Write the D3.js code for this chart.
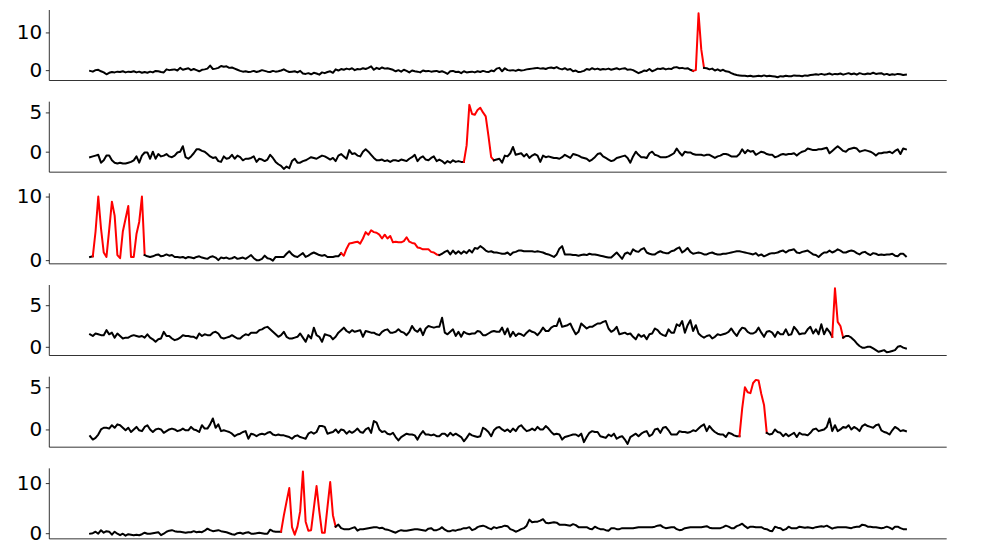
<!DOCTYPE html>
<html><head><meta charset="utf-8">
<script src="https://cdn.jsdelivr.net/npm/d3@7"></script>
<style>body{margin:0;background:#fff} svg{display:block} text{font-family:"DejaVu Sans",sans-serif}</style>
</head><body><svg id="c" width="996" height="546"></svg>
<script>
const series1 = [
-0.2,-0.4,0.0,0.1,-0.3,-0.6,-1.1,-0.7,-0.5,-0.6,
-0.4,-0.5,-0.3,-0.6,-0.4,-0.5,-0.3,-0.6,-0.4,-0.7,
-0.5,-0.7,-0.4,-0.6,-0.2,-0.3,-0.5,-0.6,0.2,0.0,
0.1,0.2,-0.1,0.6,0.1,0.3,0.5,0.0,0.3,0.0,
-0.3,0.1,0.2,0.4,1.2,0.3,0.4,0.6,1.1,0.9,
1.0,0.6,0.7,0.4,0.1,-0.2,-0.4,-0.3,-0.5,-0.4,
-0.2,-0.5,-0.3,0.0,-0.2,-0.4,-0.5,-0.2,-0.4,-0.3,
-0.1,0.2,-0.2,-0.5,-0.4,-0.3,-0.6,-0.2,-0.9,-1.0,
-0.8,-1.1,-0.7,-0.9,-1.2,-0.6,-0.8,-0.5,-0.3,-0.7,
0.2,-0.1,0.3,0.1,0.4,0.2,0.5,0.0,0.3,0.2,
0.5,0.3,0.6,1.0,0.1,0.6,0.3,0.7,0.4,0.5,
0.3,0.1,-0.3,0.0,-0.4,0.1,-0.2,-0.6,-0.1,-0.3,
-0.4,-0.6,-0.1,-0.3,-0.2,-0.4,-0.3,-0.2,-0.5,-0.3,
-0.6,-1.0,-0.3,-0.2,-0.5,-0.4,-0.8,-0.3,-0.6,-0.5,
-0.4,-0.6,-0.3,-0.5,-0.2,-0.4,-0.5,-0.1,-0.3,0.4,
0.6,-0.3,0.5,0.0,-0.1,0.0,-0.2,0.1,-0.1,0.0,
0.2,0.3,0.4,0.5,0.6,0.4,0.5,0.3,0.6,0.7,
0.5,0.8,0.4,0.2,0.5,0.1,0.3,-0.3,-0.1,-0.5,
-0.4,-0.2,0.3,0.1,0.5,0.2,0.4,0.1,0.3,0.2,
0.4,0.1,0.3,0.5,0.2,0.4,0.5,0.1,0.2,0.0,
-0.4,-0.8,-0.5,-0.1,-0.2,0.3,-0.3,0.0,0.4,0.3,
0.5,0.2,0.4,0.3,0.7,0.8,0.5,0.6,0.4,0.5,
0.1,-0.2,0.0,15.1,5.5,0.6,0.5,0.2,0.4,-0.1,
0.2,-0.2,0.1,-0.3,-0.4,-0.8,-1.1,-1.3,-1.4,-1.5,
-1.5,-1.6,-1.5,-1.7,-1.6,-1.5,-1.6,-1.4,-1.6,-1.5,
-1.6,-1.7,-1.9,-1.6,-1.7,-1.5,-1.6,-1.6,-1.4,-1.5,
-1.5,-1.6,-1.4,-1.5,-1.3,-1.2,-1.1,-1.2,-1.0,-1.2,
-1.1,-0.9,-1.2,-1.0,-1.1,-0.9,-1.2,-1.0,-0.8,-1.1,
-0.9,-1.2,-0.8,-1.0,-1.1,-0.9,-1.0,-0.7,-1.0,-0.9,
-0.8,-1.2,-1.0,-1.3,-1.1,-1.2,-1.0,-1.1,-1.3,-1.2];

const series2 = [
-0.7,-0.6,-0.5,-0.4,-1.4,-1.1,-0.5,-0.5,-1.1,-1.4,
-1.5,-1.4,-1.5,-1.5,-1.4,-1.3,-1.1,-0.6,-1.4,-0.5,
-0.1,-0.1,-0.9,0.0,-0.9,-0.3,-0.6,-0.5,-0.3,-0.6,
-0.7,-0.5,-0.1,0.0,0.7,-0.7,-0.9,-0.6,-0.2,0.3,
0.3,0.1,0.0,-0.3,-0.6,-0.8,-0.7,-1.2,-1.3,-0.6,
-0.9,-0.8,-0.4,-0.9,-0.5,-0.7,-1.1,-0.9,-0.9,-0.8,
-0.6,-1.3,-0.9,-1.0,-1.2,-1.0,-0.4,-0.8,-1.3,-1.6,
-1.8,-2.2,-1.9,-2.1,-1.2,-0.9,-1.4,-1.4,-1.2,-1.1,
-0.9,-0.7,-0.8,-0.9,-0.7,-0.5,-0.6,-0.8,-1.0,-0.8,
-1.2,-0.5,-0.3,-0.6,-0.9,0.2,-0.3,-0.2,-0.5,-0.6,
0.0,0.3,0.0,-0.4,-0.8,-1.1,-1.1,-1.0,-1.2,-1.1,
-1.3,-1.1,-1.1,-1.2,-1.0,-1.1,-1.2,-0.9,-0.7,-0.4,
-1.2,-0.8,-0.6,-1.0,-1.1,-0.8,-0.6,-1.2,-1.0,-1.2,
-1.5,-1.2,-1.4,-1.1,-1.3,-1.2,-1.3,-1.3,0.8,5.96,
4.8,4.7,5.3,5.6,5.0,4.5,2.0,-0.7,-1.1,-1.0,
-0.9,-1.4,-0.5,-0.6,-0.2,0.6,-0.4,-0.3,-0.2,-0.6,
-0.3,-0.8,-0.5,-0.3,-0.5,-1.3,-0.5,-0.7,-0.6,-0.7,
-0.8,-0.8,-0.9,-0.7,-0.4,-0.6,-0.8,-0.3,-0.4,-0.5,
-0.7,-0.8,-0.9,-1.2,-1.0,-0.7,-0.3,-0.2,-0.6,-0.8,
-1.0,-1.2,-1.1,-0.8,-0.7,-0.6,-0.5,-0.8,-1.4,-0.6,
0.0,-0.4,-0.7,-0.7,-0.8,-0.2,0.0,-0.4,-0.5,-0.7,
-0.7,-0.7,-0.6,-0.4,-0.2,0.4,-0.1,-0.5,0.0,-0.1,
-0.1,-0.3,-0.4,-0.4,-0.4,-0.5,-0.4,-0.4,-0.6,-0.8,
-0.6,-0.5,-0.3,-0.3,-0.4,-0.6,-0.6,-0.6,-0.3,0.3,
-0.2,0.2,0.0,0.1,-0.4,-0.2,0.0,-0.1,-0.3,-0.4,
-0.4,-0.7,-0.6,-0.4,-0.3,-0.4,-0.3,-0.3,-0.2,-0.5,
-0.2,0.0,0.1,0.4,0.3,0.2,0.2,0.3,0.3,0.4,
0.5,-0.2,0.1,0.4,0.7,0.4,0.1,0.0,0.3,0.4,
0.5,0.4,0.0,0.1,0.2,0.1,0.0,-0.2,-0.5,-0.2,
-0.2,-0.1,-0.1,0.0,-0.2,0.1,0.3,-0.3,0.4,0.3];

const series3 = [
0.5,0.6,4.5,10.0,5.0,1.2,0.5,4.8,9.2,7.0,
0.8,0.3,4.5,6.5,8.5,0.5,0.5,4.1,6.0,10.0,
0.8,0.6,0.5,0.6,0.8,0.9,0.6,0.7,0.9,0.7,
0.8,0.5,0.5,0.4,0.5,0.3,0.5,0.4,0.3,0.5,
0.6,0.4,0.3,0.2,0.5,0.6,0.4,0.0,0.4,0.3,
0.4,0.2,0.3,0.5,0.2,0.3,0.4,0.2,0.5,0.8,
0.3,0.0,0.0,0.2,0.7,0.3,0.2,-0.08,0.5,0.5,
0.5,0.5,1.0,1.4,0.9,0.6,0.5,0.8,1.1,0.5,
0.7,1.0,1.2,1.0,0.8,0.7,0.8,0.5,0.5,0.5,
0.6,0.6,1.1,0.7,1.8,2.6,2.7,2.8,2.9,2.6,
3.4,4.4,4.0,4.7,4.4,4.3,4.0,3.4,4.0,3.4,
3.8,2.8,2.9,2.8,2.8,3.0,3.6,2.9,2.7,2.6,
2.0,1.9,1.7,1.7,1.7,1.3,1.2,0.9,0.8,1.0,
1.3,1.5,0.9,1.5,1.0,1.4,1.0,1.4,1.1,1.6,
1.2,1.9,1.8,2.2,1.9,1.5,1.3,1.4,1.2,1.2,
1.1,1.0,1.0,1.2,0.8,1.2,1.3,1.5,1.5,1.4,
1.4,1.4,1.4,1.3,1.4,1.3,1.2,1.0,0.9,0.7,
0.5,0.9,1.8,2.2,0.9,0.9,0.9,0.8,0.8,0.7,
0.8,0.9,0.8,1.0,0.9,0.9,0.8,0.7,0.6,0.5,
0.4,0.4,0.8,1.2,0.7,0.2,1.0,1.2,0.9,1.7,
1.4,1.3,1.7,1.9,1.2,1.0,0.9,0.9,1.2,1.4,
1.2,1.1,1.1,1.4,1.5,1.8,2.0,1.2,1.5,1.9,
1.3,1.0,1.1,1.2,1.1,0.9,0.9,1.1,1.2,1.0,
0.9,0.9,1.0,1.0,1.1,1.2,1.3,1.4,1.4,1.3,
1.2,1.1,1.0,0.9,1.1,0.7,0.9,0.6,0.8,1.0,
1.1,1.1,1.2,1.4,1.5,1.2,1.5,1.6,1.7,1.2,
1.1,1.3,1.4,1.5,1.2,0.9,0.8,0.5,0.9,1.2,
1.2,1.5,1.2,1.4,1.7,1.5,1.2,1.2,1.4,1.5,
1.4,1.1,0.9,1.2,1.3,1.0,0.8,1.1,1.0,0.8,
0.9,0.8,0.9,0.9,1.0,0.7,0.6,1.0,1.0,0.6];

const series4 = [
1.5,1.3,1.6,1.5,1.4,1.4,2.0,1.5,1.7,1.1,
1.6,1.3,1.0,1.1,1.1,1.3,1.4,1.3,1.2,1.3,
1.1,1.5,1.1,0.9,0.6,0.9,1.0,1.8,1.3,1.3,
1.0,0.8,0.9,1.1,1.4,1.3,1.3,1.2,1.2,1.0,
1.6,1.3,1.5,1.4,1.4,1.7,1.8,1.6,1.1,1.0,
1.1,1.2,1.4,1.2,1.0,1.0,1.3,1.5,1.4,1.7,
1.7,1.7,2.0,2.1,2.3,2.4,2.1,1.8,1.5,1.2,
1.4,1.8,1.2,1.0,1.0,1.1,1.2,1.6,1.1,0.6,
1.4,1.0,2.3,1.4,1.2,0.6,1.5,1.4,1.3,0.9,
1.2,1.7,2.0,2.3,1.9,1.7,2.0,1.8,1.9,2.0,
1.2,1.9,1.8,1.7,1.7,1.5,1.4,1.8,2.0,2.1,
1.7,1.7,1.8,2.1,1.8,1.7,1.4,1.8,2.5,2.0,
1.8,2.2,1.4,2.2,2.5,2.4,2.3,2.4,2.4,3.5,
1.7,1.5,1.8,2.1,1.3,1.8,1.2,1.8,1.6,1.5,
1.6,1.6,1.9,1.8,1.4,1.4,1.6,1.8,1.9,1.8,
1.8,2.3,1.5,2.2,1.2,1.8,1.3,1.6,1.5,1.3,
1.7,2.0,1.8,1.7,1.4,1.8,2.3,1.9,1.9,2.3,
2.5,2.5,3.4,2.4,2.5,2.6,2.8,2.1,1.5,1.8,
2.8,2.5,2.2,2.4,2.4,2.6,2.8,2.8,3.0,3.1,
2.2,1.8,2.0,2.4,1.5,1.6,1.7,1.5,1.6,1.2,
0.9,1.5,1.2,1.4,0.9,1.5,1.6,2.2,2.0,1.6,
1.4,1.3,2.1,1.7,1.7,2.7,2.5,3.1,1.7,2.6,
3.2,1.9,2.6,1.6,1.3,1.1,1.3,1.4,1.0,1.2,
1.5,1.4,1.5,1.6,1.8,2.2,1.7,1.3,1.9,2.3,
2.2,1.8,1.6,1.6,1.8,2.3,1.7,1.2,1.8,1.9,
1.7,1.2,1.8,1.5,1.5,2.1,1.4,1.5,2.4,2.0,
1.5,1.6,1.6,2.1,2.4,1.6,2.1,1.5,2.7,1.5,
2.2,1.8,1.2,7.04,3.0,2.5,1.1,1.3,1.3,1.1,
0.8,0.4,0.1,-0.1,-0.1,0.0,0.0,-0.2,-0.4,-0.6,
-0.5,-0.4,-0.66,-0.6,-0.5,-0.4,0.0,0.1,-0.1,-0.2];

const series5 = [
-0.8,-1.2,-1.0,-0.6,0.0,0.2,0.2,0.1,0.5,0.2,
0.6,0.5,0.2,-0.1,0.2,-0.3,0.0,0.3,-0.1,-0.2,
0.3,0.5,0.0,-0.3,0.0,0.1,0.0,-0.4,-0.2,0.0,
0.1,0.0,-0.2,-0.1,0.1,-0.1,-0.1,0.3,0.0,-0.1,
-0.3,0.5,0.1,0.1,0.6,1.3,0.2,0.6,-0.2,-0.1,
-0.2,-0.3,-0.5,-0.8,-0.6,-0.5,-0.3,-0.2,-1.1,-0.5,
-0.6,-0.8,-0.6,-0.5,-0.6,-0.4,-0.3,-0.6,-0.7,-0.6,
-0.7,-0.7,-0.8,-0.9,-1.1,-0.8,-0.7,-0.9,-1.0,-1.1,
-0.5,-0.3,-0.5,-0.3,0.4,0.4,0.3,-0.5,-0.4,-0.3,
0.0,-0.4,0.0,-0.1,-0.5,-0.2,-0.4,-0.2,0.1,-0.3,
-0.4,0.0,0.2,-0.4,1.0,0.8,0.0,-0.3,-0.2,-0.5,
-0.6,-0.4,-0.9,-1.3,-0.9,-0.7,-0.5,-0.6,-0.6,-0.7,
-1.2,-0.6,-0.2,-0.6,-0.6,-0.7,-0.6,-0.8,-0.8,-0.5,
-0.5,-0.8,-0.4,-0.7,-0.5,-0.7,-0.9,-1.4,-1.0,-0.5,
-0.7,-0.8,-0.9,-0.8,0.2,0.0,-0.3,-0.8,-0.1,0.2,
0.3,0.0,-0.2,0.0,-0.3,0.1,-0.2,0.3,0.5,0.1,
-0.2,-0.1,0.1,-0.1,0.3,0.0,0.0,0.4,0.1,-0.3,
-0.6,-0.5,-0.6,-1.2,-0.9,-0.8,-0.7,-0.6,-0.6,-0.8,
-0.5,-1.5,-0.9,-0.4,-0.2,-0.3,-0.3,-0.8,-0.9,-1.0,
-0.6,-0.8,-0.5,-1.1,-0.9,-0.8,-1.2,-1.72,-0.9,-0.7,
-0.5,-0.8,-0.5,-0.3,-0.2,-0.8,-0.6,0.0,0.1,-0.4,
0.2,0.3,-0.1,-0.6,-0.6,-0.6,-0.2,-0.3,-0.3,-0.4,
-0.3,-0.1,-0.2,0.1,0.4,0.6,-0.2,0.4,0.0,-0.3,
-0.5,-0.6,-0.6,-0.9,-0.4,-0.5,-0.7,-0.8,-0.8,2.5,
5.0,4.4,4.3,5.5,5.87,5.8,4.2,2.9,-0.4,-0.6,
-0.5,0.0,-0.3,-0.4,-0.8,-0.5,-0.8,-0.6,-0.4,-0.9,
-0.4,-0.6,-0.6,-0.7,-0.4,0.0,0.1,-0.2,-0.1,0.0,
0.3,1.3,-0.2,0.5,-0.2,0.0,0.3,0.2,0.5,0.0,
0.3,0.1,-0.2,0.4,0.6,0.4,0.3,0.2,0.5,0.6,
-0.1,-0.3,-0.4,-0.6,-0.1,0.3,0.1,-0.2,-0.1,-0.2];

const series6 = [
-0.1,0.0,0.3,-0.1,0.6,0.1,0.4,0.3,-0.3,0.3,
-0.1,-0.4,-0.1,-0.49,-0.2,-0.3,-0.4,-0.3,-0.4,-0.2,
0.1,-0.1,-0.1,0.0,0.1,0.2,-0.4,-0.1,0.3,0.5,
0.6,0.4,0.3,0.3,0.2,0.1,0.2,0.2,0.4,0.2,
0.3,0.2,0.5,0.9,0.6,0.4,0.5,0.6,0.4,0.3,
0.2,0.0,-0.2,-0.3,0.0,0.1,-0.1,0.1,0.2,-0.1,
-0.1,0.0,0.1,0.0,-0.1,-0.1,0.7,0.4,0.3,0.3,
0.3,3.5,6.3,9.0,1.2,-0.3,1.3,4.4,12.3,2.3,
0.5,0.6,5.0,9.4,4.4,0.1,0.1,5.2,10.2,3.6,
1.3,1.7,1.0,0.8,0.8,0.8,1.0,1.2,0.5,0.8,
0.8,0.9,1.0,1.1,1.2,1.2,1.0,1.1,0.8,0.7,
0.5,0.3,0.1,0.4,0.6,0.5,0.5,0.6,0.7,0.8,
0.8,0.7,0.6,0.5,0.9,1.0,0.6,0.6,0.8,1.2,
0.7,0.4,0.4,0.6,0.5,0.7,0.8,1.0,1.0,1.2,
0.6,0.8,1.2,1.4,1.5,1.3,1.0,0.8,1.2,1.0,
1.2,1.3,1.5,1.4,0.8,0.6,0.3,0.5,0.8,1.0,
1.5,2.7,2.2,2.3,2.3,2.5,2.8,2.1,2.0,2.1,
2.2,2.1,1.7,1.7,1.7,1.6,1.5,1.8,1.6,1.2,
1.2,1.2,1.2,0.9,0.8,1.3,1.0,0.8,0.8,0.6,
0.5,1.0,1.0,0.8,0.8,1.0,1.0,1.0,1.0,1.0,
1.1,1.2,1.2,1.2,1.2,1.2,1.2,1.3,1.5,1.6,
1.2,1.0,1.1,1.2,1.2,0.8,0.6,0.7,1.0,1.1,
1.2,1.2,1.2,1.2,1.2,1.3,1.4,1.1,1.0,1.0,
1.0,1.0,1.2,1.5,1.3,1.0,1.0,1.4,1.6,1.9,
1.4,1.0,1.3,1.3,1.2,1.2,1.2,0.9,0.8,0.5,
0.4,1.3,1.1,1.0,0.6,0.8,1.3,1.0,1.0,1.0,
1.3,1.2,1.1,1.2,1.1,1.0,1.2,1.3,1.4,1.3,
1.5,1.2,0.9,1.1,1.2,1.2,1.2,1.2,1.1,1.0,
1.2,1.3,1.3,1.7,1.6,1.3,1.3,1.2,1.2,1.1,
1.0,1.1,1.3,1.1,0.8,1.3,1.3,1.0,0.8,0.8];

// anomaly index ranges (inclusive), drawn in red
const anomalies1 = [[221, 225]];
const anomalies2 = [[137, 148]];
const anomalies3 = [[1, 20], [92, 128]];
const anomalies4 = [[272, 276]];
const anomalies5 = [[238, 248]];
const anomalies6 = [[70, 90]];

const ticks1 = [0, 10];
const ticks2 = [0, 5];
const ticks3 = [0, 10];
const ticks4 = [0, 5];
const ticks5 = [0, 5];
const ticks6 = [0, 10];

const panels = [
  {values: series1, anomalies: anomalies1, ticks: ticks1},
  {values: series2, anomalies: anomalies2, ticks: ticks2},
  {values: series3, anomalies: anomalies3, ticks: ticks3},
  {values: series4, anomalies: anomalies4, ticks: ticks4},
  {values: series5, anomalies: anomalies5, ticks: ticks5},
  {values: series6, anomalies: anomalies6, ticks: ticks6}
];

const svg = d3.select("#c");
const axLeft = 49.3, axRight = 946.7;
const panelTop0 = 10, panelStep = 91.67, panelH = 70.5;

panels.forEach((p, k) => {
  const n = p.values.length;
  const top = panelTop0 + k * panelStep;
  const bottom = top + panelH;
  const x = d3.scaleLinear()
    .domain([-(n - 1) * 0.05, (n - 1) * 1.05])
    .range([axLeft, axRight]);
  const [mn, mx] = d3.extent(p.values);
  const pad = (mx - mn) * 0.05;
  const y = d3.scaleLinear().domain([mn - pad, mx + pad]).range([bottom, top]);

  const g = svg.append("g");
  const line = d3.line().x((d) => x(d[0])).y((d) => y(d[1]));
  const pts = p.values.map((v, i) => [i, v]);

  const segs = [];
  let start = 0;
  p.anomalies.forEach(([a, b]) => {
    if (a > start) segs.push({from: start, to: a, color: "#000000"});
    segs.push({from: a, to: b, color: "#ff0000"});
    start = b;
  });
  if (start < n - 1) segs.push({from: start, to: n - 1, color: "#000000"});

  g.selectAll("path.seg").data(segs).join("path")
    .attr("class", "seg")
    .attr("d", (s) => line(pts.slice(s.from, s.to + 1)))
    .attr("fill", "none")
    .attr("stroke", (s) => s.color)
    .attr("stroke-width", 2)
    .attr("stroke-linejoin", "round")
    .attr("stroke-linecap", "square");

  g.append("line").attr("x1", axLeft).attr("x2", axLeft).attr("y1", top).attr("y2", bottom)
    .attr("stroke", "#000").attr("stroke-width", 0.8);
  g.append("line").attr("x1", axLeft).attr("x2", axRight).attr("y1", bottom).attr("y2", bottom)
    .attr("stroke", "#000").attr("stroke-width", 0.8);

  const ax = g.append("g").attr("transform", `translate(${axLeft},0)`)
    .call(d3.axisLeft(y).tickValues(p.ticks).tickFormat(d3.format("d")).tickSize(3.5).tickPadding(3.5));
  ax.select(".domain").remove();
  ax.selectAll(".tick line").attr("stroke", "#000").attr("stroke-width", 0.8);
  ax.selectAll(".tick text").attr("fill", "#000").style("font-size", "20px")
    .style("font-family", "'DejaVu Sans', sans-serif");
});
</script></body></html>
